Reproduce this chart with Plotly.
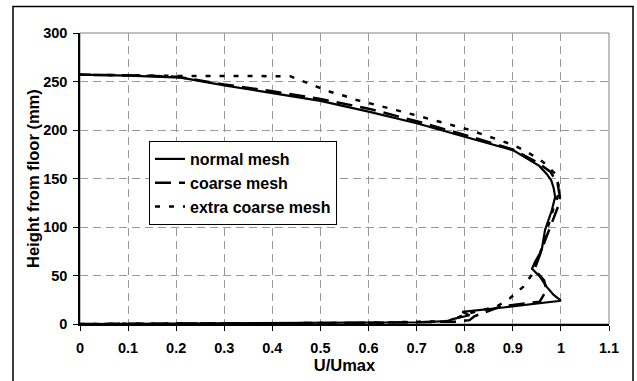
import plotly.graph_objects as go

# Data (U/Umax, height mm)
normal_u = [0, 0.2, 0.5, 0.7, 0.765, 0.775, 0.81, 0.795, 0.88, 1.0, 0.985, 0.97, 0.956, 0.94, 0.946,
            0.96, 0.967, 0.981, 0.988, 0.985, 0.98, 0.97, 0.955, 0.929, 0.901, 0.8, 0.7, 0.6, 0.5,
            0.4, 0.3, 0.21, 0.1, 0]
normal_h = [0, 0.5, 1.0, 1.8, 3, 5, 9, 12.5, 17, 24, 30, 38.5, 49, 57, 64,
            76, 97, 117, 131, 140, 148, 155, 163, 171, 179, 193, 207, 219, 230,
            238, 246, 254, 256, 257]

coarse_u = [0, 0.3, 0.6, 0.78, 0.81, 0.82, 0.873, 0.929, 0.956, 0.97, 0.965, 0.945, 0.955, 0.97,
            0.981, 0.994, 0.998, 0.993, 0.978, 0.95, 0.9, 0.8, 0.7, 0.6, 0.5, 0.4, 0.3, 0.2,
            0.1, 0]
coarse_h = [0, 0.6, 1.2, 2.4, 4, 8, 17.8, 21.3, 23, 35, 45, 56, 70, 90,
            104, 121, 131, 145, 157, 167, 180, 195, 209, 222, 232, 240, 247, 255,
            256.5, 257]

xcoarse_u = [0, 0.3, 0.6, 0.77, 0.8, 0.866, 0.894, 0.922, 0.939, 0.945, 0.955, 0.97, 0.985, 0.998,
             0.988, 0.963, 0.929, 0.901, 0.811, 0.696, 0.575, 0.551, 0.52, 0.492, 0.464, 0.437,
             0.2, 0]
xcoarse_h = [0, 0.6, 1.2, 3, 10, 17.8, 26.5, 38.5, 50.5, 58, 70, 95, 120, 138,
             155, 167, 177.6, 184.5, 200, 215.5, 231, 235, 239.5, 244.7, 249.8, 255.5,
             255.7, 257]

x_ticks = [0, 0.1, 0.2, 0.3, 0.4, 0.5, 0.6, 0.7, 0.8, 0.9, 1.0, 1.1]
x_labels = ["0", "0.1", "0.2", "0.3", "0.4", "0.5", "0.6", "0.7", "0.8", "0.9", "1", "1.1"]
y_ticks = [0, 50, 100, 150, 200, 250, 300]

FONT = "Liberation Sans, Arial, sans-serif"
TICK_SIZE = 14.5
TITLE_SIZE = 16.5

fig = go.Figure()
fig.add_trace(go.Scatter(x=normal_u, y=normal_h, mode="lines", name="normal mesh",
                         line=dict(color="black", width=2.2)))
fig.add_trace(go.Scatter(x=coarse_u, y=coarse_h, mode="lines", name="coarse mesh",
                         line=dict(color="black", width=2.5, dash="16px,8px")))
fig.add_trace(go.Scatter(x=xcoarse_u, y=xcoarse_h, mode="lines", name="extra coarse mesh",
                         line=dict(color="black", width=2.5, dash="5px,9px")))

# plot area frame (gray) and outer chart border (black)
fig.add_shape(type="rect", xref="paper", yref="paper", x0=0, x1=1, y0=0, y1=1,
              line=dict(color="#808080", width=1), layer="below")
fig.add_shape(type="rect", xref="paper", yref="paper",
              x0=(13 - 80) / 529, x1=(633 - 80) / 529,
              y0=(324 - 384) / 291, y1=(324 - 6.5) / 291,
              line=dict(color="black", width=1.5), layer="below")

# y-axis title
fig.add_annotation(text="Height from floor (mm)", xref="paper", yref="paper",
                   x=(32.5 - 80) / 529, y=0.5, xanchor="center", yanchor="middle",
                   textangle=-90, showarrow=False,
                   font=dict(family=FONT, size=TITLE_SIZE, color="black", weight="bold"))

fig.update_layout(
    width=637, height=381,
    margin=dict(l=80, r=28, t=33, b=57),
    paper_bgcolor="white", plot_bgcolor="white",
    font=dict(family=FONT, size=TICK_SIZE, color="black", weight="bold"),
    showlegend=True,
    legend=dict(x=(149 - 80) / 529, y=(324 - 141) / 291, xanchor="left", yanchor="top",
                bgcolor="white", bordercolor="black", borderwidth=1,
                font=dict(family=FONT, size=16, color="black", weight="bold"),
                itemwidth=30),
    xaxis=dict(range=[0, 1.1], tickvals=x_ticks, ticktext=x_labels, automargin=False,
               showgrid=True, gridcolor="#999999", griddash="8px,5px", gridwidth=1,
               showline=True, linecolor="black", linewidth=1.5,
               ticks="outside", ticklen=5, tickcolor="black",
               ticklabelstandoff=5, zeroline=False,
               tickfont=dict(family=FONT, size=TICK_SIZE, weight="bold"),
               title=dict(text="U/Umax", font=dict(family=FONT, size=TITLE_SIZE, weight="bold"),
                          standoff=0)),
    yaxis=dict(range=[0, 300], tickvals=y_ticks, automargin=False,
               showgrid=True, gridcolor="#999999", griddash="8px,5px", gridwidth=1,
               showline=True, linecolor="black", linewidth=1.5,
               ticks="outside", ticklen=5, tickcolor="black",
               ticklabelstandoff=3, zeroline=False,
               tickfont=dict(family=FONT, size=TICK_SIZE, weight="bold")),
)

fig.write_html("out.html")
